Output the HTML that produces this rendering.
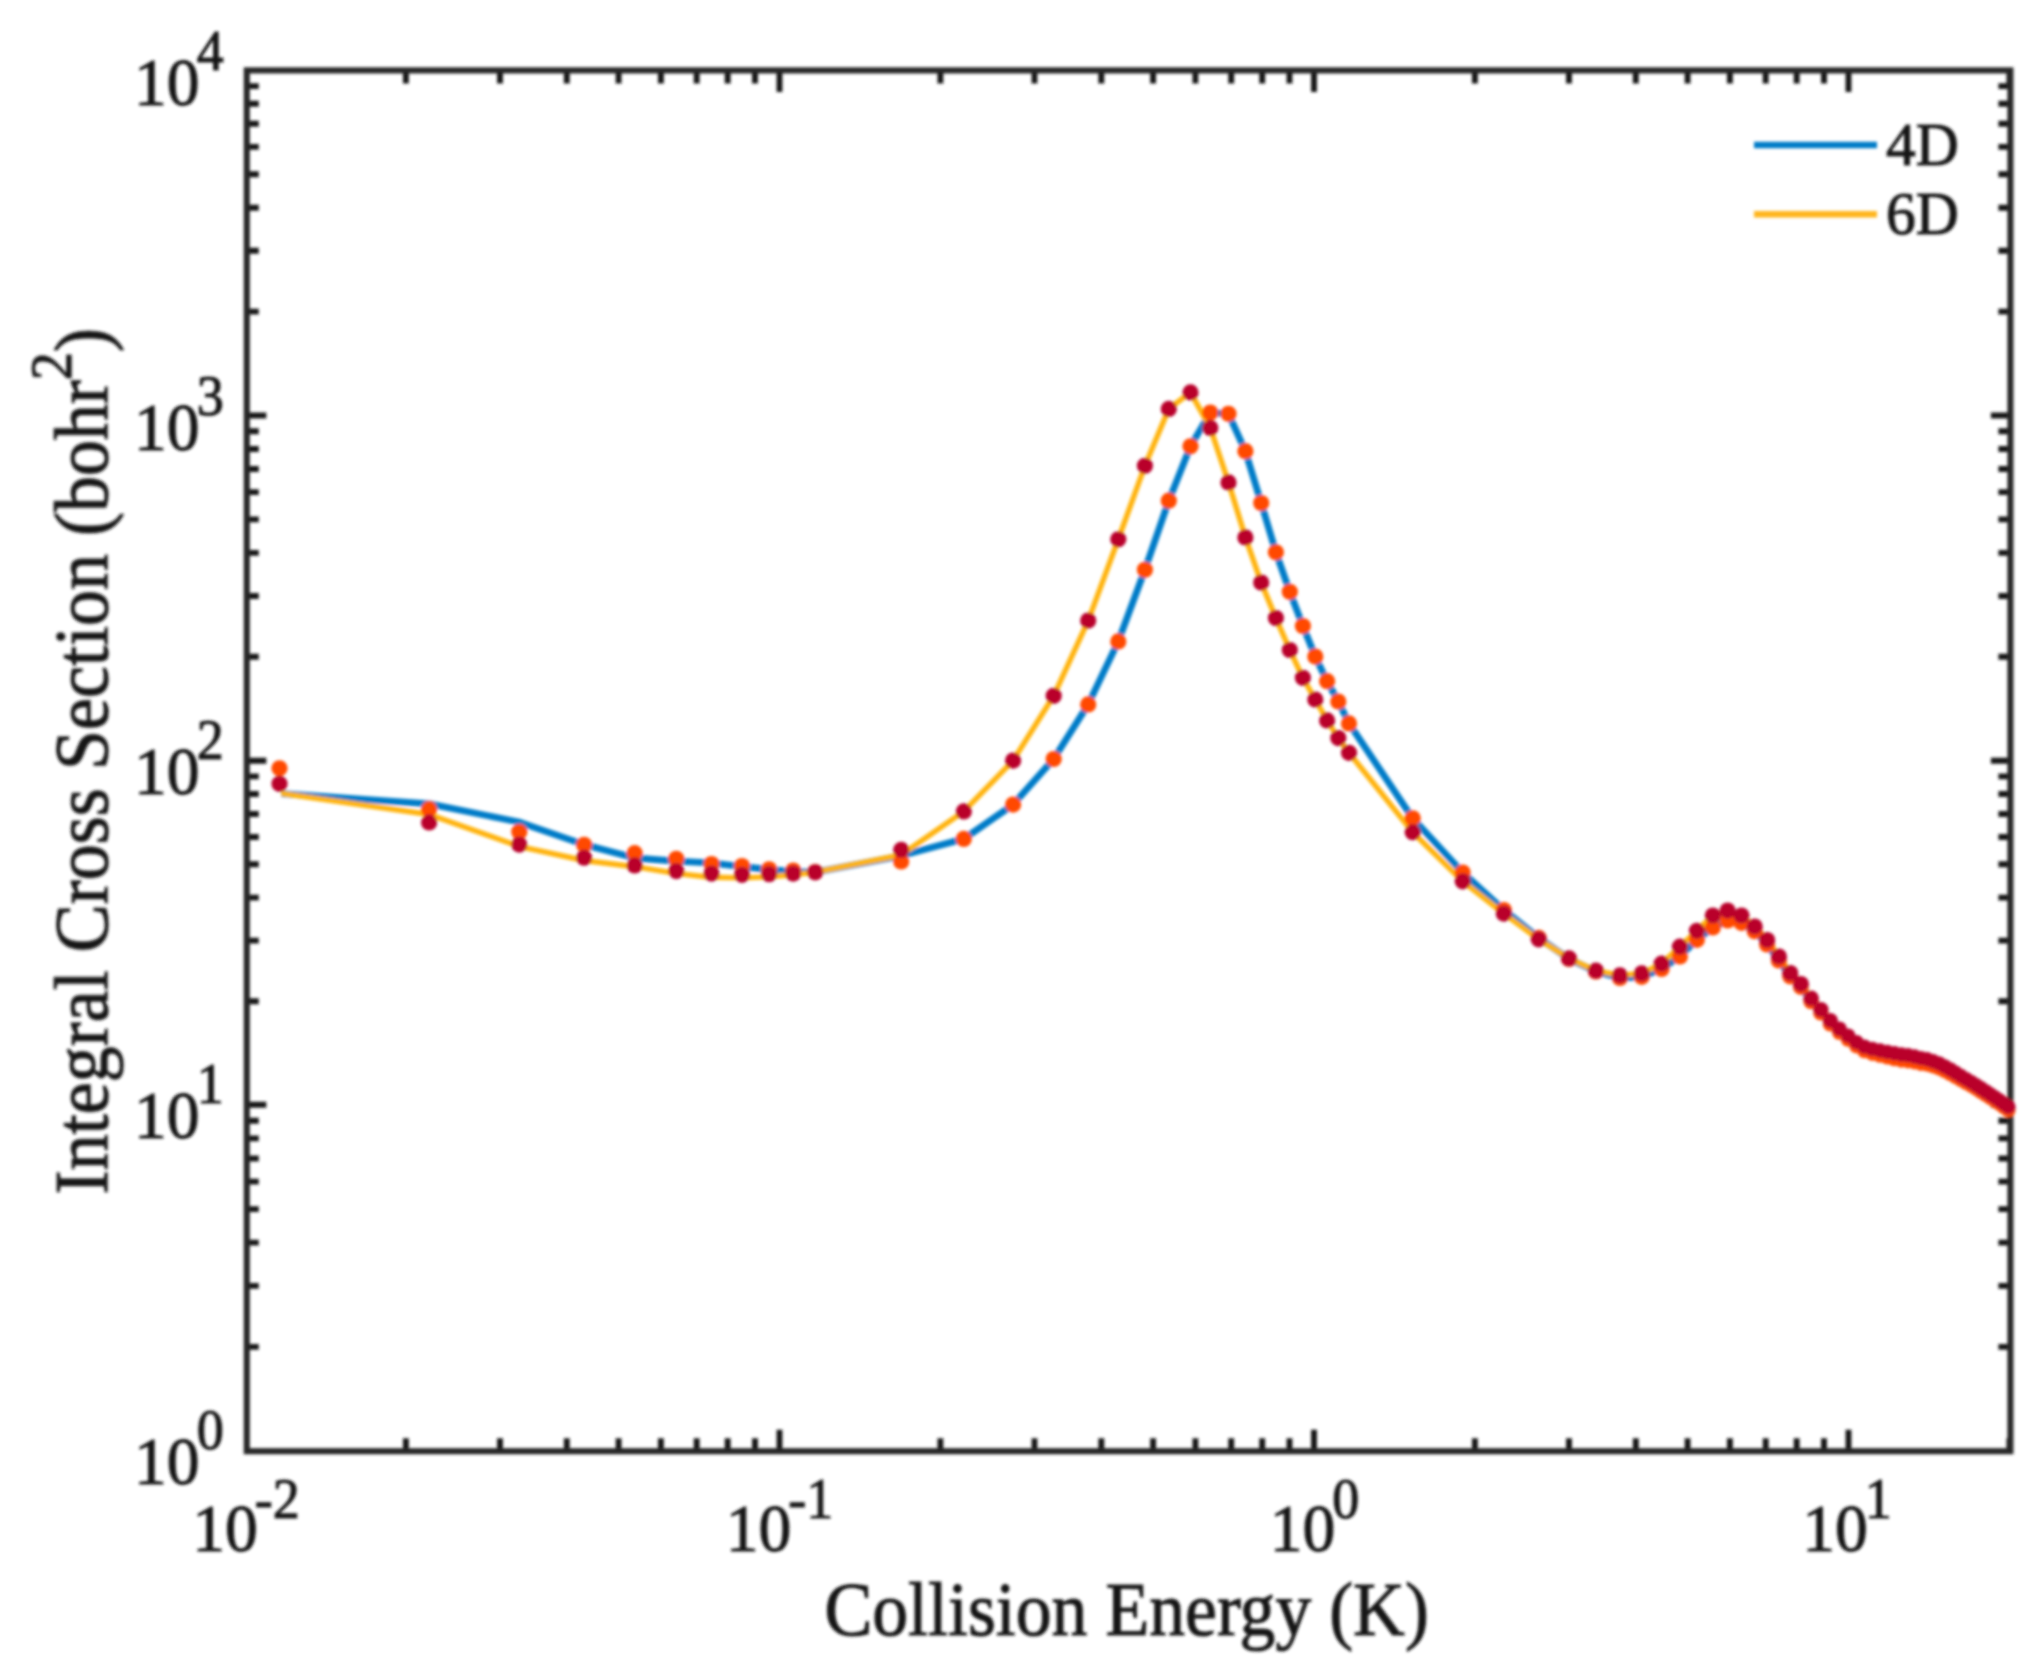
<!DOCTYPE html>
<html lang="en"><head><meta charset="utf-8"><title>Integral Cross Section vs Collision Energy</title>
<style>
html,body{margin:0;padding:0;background:#fff;}
body{width:2043px;height:1665px;overflow:hidden;}
svg{display:block;}
text{font-family:"Liberation Serif","Times New Roman",serif;fill:#141414;stroke:#141414;stroke-width:1.1px;stroke-linejoin:round;}
.tl{font-size:68px;}
.sup{font-size:56px;}
.lab{font-size:76px;}
.leg{font-size:61px;}
</style></head><body>
<svg width="2043" height="1665" viewBox="0 0 2043 1665">
<rect width="2043" height="1665" fill="#fff"/>
<defs><filter id="soft" x="0" y="0" width="2043" height="1665" filterUnits="userSpaceOnUse"><feGaussianBlur stdDeviation="1.4"/></filter>
<clipPath id="clip"><rect x="246.8" y="70.4" width="1775.6" height="1380.8"/></clipPath></defs>
<g id="chart" filter="url(#soft)">

<path d="M405.9,1451.2v-13M405.9,70.4v13M500.0,1451.2v-13M500.0,70.4v13M566.8,1451.2v-13M566.8,70.4v13M618.6,1451.2v-13M618.6,70.4v13M660.9,1451.2v-13M660.9,70.4v13M696.7,1451.2v-13M696.7,70.4v13M727.7,1451.2v-13M727.7,70.4v13M755.0,1451.2v-13M755.0,70.4v13M779.5,1451.2v-21.5M779.5,70.4v21.5M940.4,1451.2v-13M940.4,70.4v13M1034.5,1451.2v-13M1034.5,70.4v13M1101.3,1451.2v-13M1101.3,70.4v13M1153.1,1451.2v-13M1153.1,70.4v13M1195.4,1451.2v-13M1195.4,70.4v13M1231.2,1451.2v-13M1231.2,70.4v13M1262.2,1451.2v-13M1262.2,70.4v13M1289.5,1451.2v-13M1289.5,70.4v13M1314.0,1451.2v-21.5M1314.0,70.4v21.5M1474.9,1451.2v-13M1474.9,70.4v13M1569.0,1451.2v-13M1569.0,70.4v13M1635.8,1451.2v-13M1635.8,70.4v13M1687.6,1451.2v-13M1687.6,70.4v13M1729.9,1451.2v-13M1729.9,70.4v13M1765.7,1451.2v-13M1765.7,70.4v13M1796.7,1451.2v-13M1796.7,70.4v13M1824.0,1451.2v-13M1824.0,70.4v13M1848.5,1451.2v-21.5M1848.5,70.4v21.5M2009.4,1451.2v-13M2009.4,70.4v13M246.8,1346.9h12M2010.4,1346.9h-12M246.8,1285.9h12M2010.4,1285.9h-12M246.8,1242.6h12M2010.4,1242.6h-12M246.8,1209.1h12M2010.4,1209.1h-12M246.8,1181.6h12M2010.4,1181.6h-12M246.8,1158.5h12M2010.4,1158.5h-12M246.8,1138.4h12M2010.4,1138.4h-12M246.8,1120.7h12M2010.4,1120.7h-12M246.8,1104.8h19.5M2010.4,1104.8h-19.5M246.8,1001.2h12M2010.4,1001.2h-12M246.8,940.6h12M2010.4,940.6h-12M246.8,897.6h12M2010.4,897.6h-12M246.8,864.3h12M2010.4,864.3h-12M246.8,837.0h12M2010.4,837.0h-12M246.8,814.0h12M2010.4,814.0h-12M246.8,794.0h12M2010.4,794.0h-12M246.8,776.4h12M2010.4,776.4h-12M246.8,760.7h19.5M2010.4,760.7h-19.5M246.8,656.8h12M2010.4,656.8h-12M246.8,596.0h12M2010.4,596.0h-12M246.8,552.9h12M2010.4,552.9h-12M246.8,519.4h12M2010.4,519.4h-12M246.8,492.1h12M2010.4,492.1h-12M246.8,469.0h12M2010.4,469.0h-12M246.8,449.0h12M2010.4,449.0h-12M246.8,431.3h12M2010.4,431.3h-12M246.8,415.5h19.5M2010.4,415.5h-19.5M246.8,311.6h12M2010.4,311.6h-12M246.8,250.8h12M2010.4,250.8h-12M246.8,207.7h12M2010.4,207.7h-12M246.8,174.2h12M2010.4,174.2h-12M246.8,146.9h12M2010.4,146.9h-12M246.8,123.8h12M2010.4,123.8h-12M246.8,103.8h12M2010.4,103.8h-12M246.8,86.1h12M2010.4,86.1h-12" stroke="#121212" stroke-width="5.9" fill="none"/>
<rect x="246.8" y="70.4" width="1763.6000000000001" height="1380.8" fill="none" stroke="#282828" stroke-width="6.1"/>
<g clip-path="url(#clip)">
<polyline points="281.3,793.6 429.4,803.8 518.7,822.0 584.2,844.6 634.9,858.0 675.5,861.2 710.0,862.8 742.3,866.7 768.9,869.5 793.3,871.6 814.1,872.4 901.0,855.8 963.8,838.9 1013.1,804.6 1053.7,759.0 1088.2,704.4 1118.3,641.4 1144.9,569.8 1168.8,500.7 1190.5,446.3 1210.3,412.6 1228.5,413.8 1245.4,451.2 1261.2,503.0 1275.9,552.3 1289.8,591.8 1302.9,626.0 1315.3,656.6 1327.1,681.2 1338.3,701.5 1349.0,723.4 1412.7,818.3 1462.7,872.5 1503.8,910.0 1538.7,937.9 1569.0,958.9 1595.9,971.5 1619.9,978.0 1641.7,976.8 1661.6,969.0 1679.9,956.4 1696.9,939.8 1712.8,927.5 1727.6,920.5 1741.5,922.8 1754.7,931.2 1767.1,944.4 1778.9,960.5 1790.2,976.3 1800.9,986.9 1811.1,1001.4 1820.9,1012.9 1830.3,1023.9 1839.4,1032.4 1848.1,1039.5 1856.5,1046.1 1864.6,1051.0 1872.4,1053.6 1880.0,1055.5 1887.3,1057.3 1894.4,1059.0 1901.3,1060.4 1908.0,1061.1 1914.5,1062.2 1920.9,1063.6 1927.0,1064.4 1933.0,1066.1 1938.9,1068.1 1944.6,1070.9 1950.2,1073.8 1955.6,1076.9 1960.9,1079.9 1966.1,1082.8 1971.2,1085.7 1976.2,1088.7 1981.0,1091.8 1985.8,1094.8 1990.5,1097.9 1995.1,1100.9 1999.6,1103.9 2004.0,1107.0 2008.3,1110.1" fill="none" stroke="#007cc8" stroke-width="6.8" stroke-linejoin="round"/>
<polyline points="281.3,793.4 429.4,814.5 518.7,846.3 584.2,860.5 634.9,866.7 675.5,873.4 710.0,877.3 742.3,877.9 768.9,876.7 793.3,874.8 814.1,872.4 901.0,855.0 963.8,811.4 1013.1,760.6 1053.7,695.8 1088.2,620.6 1118.3,539.3 1144.9,465.8 1168.8,408.9 1190.5,392.4 1210.3,427.9 1228.5,482.4 1245.4,537.4 1261.2,582.6 1275.9,618.1 1289.8,650.0 1302.9,677.8 1315.3,699.5 1327.1,720.4 1338.3,738.1 1349.0,752.8 1412.7,832.2 1462.7,881.3 1503.8,913.6 1538.7,939.3 1569.0,958.4 1595.9,970.7 1619.9,975.4 1641.7,973.4 1661.6,963.7 1679.9,946.7 1696.9,930.8 1712.8,915.5 1727.6,910.6 1741.5,915.5 1754.7,926.5 1767.1,940.0 1778.9,956.5 1790.2,973.0 1800.9,983.9 1811.1,998.2 1820.9,1009.6 1830.3,1020.5 1839.4,1028.8 1848.1,1035.7 1856.5,1042.2 1864.6,1046.8 1872.4,1049.0 1880.0,1050.6 1887.3,1052.1 1894.4,1053.4 1901.3,1054.6 1908.0,1055.3 1914.5,1056.6 1920.9,1058.2 1927.0,1059.3 1933.0,1061.3 1938.9,1063.5 1944.6,1066.5 1950.2,1069.5 1955.6,1072.8 1960.9,1076.1 1966.1,1079.2 1971.2,1082.2 1976.2,1085.3 1981.0,1088.4 1985.8,1091.5 1990.5,1094.6 1995.1,1097.6 1999.6,1100.6 2004.0,1103.8 2008.3,1106.9" fill="none" stroke="#ffb30a" stroke-width="5.4" stroke-linejoin="round"/>
<g fill="#ff4a00"><circle cx="279.5" cy="768.3" r="8.1"/><circle cx="429.1" cy="809.2" r="8.1"/><circle cx="519.3" cy="831.8" r="8.1"/><circle cx="584.1" cy="844.8" r="8.1"/><circle cx="634.7" cy="853.2" r="8.1"/><circle cx="676.3" cy="858.8" r="8.1"/><circle cx="711.5" cy="864.0" r="8.1"/><circle cx="742.0" cy="866.0" r="8.1"/><circle cx="769.1" cy="869.3" r="8.1"/><circle cx="793.2" cy="870.5" r="8.1"/><circle cx="815.2" cy="872.0" r="8.1"/><circle cx="901.2" cy="861.5" r="8.1"/><circle cx="963.8" cy="838.9" r="8.1"/><circle cx="1013.1" cy="804.6" r="8.1"/><circle cx="1053.7" cy="759.0" r="8.1"/><circle cx="1088.2" cy="704.4" r="8.1"/><circle cx="1118.3" cy="641.4" r="8.1"/><circle cx="1144.9" cy="569.8" r="8.1"/><circle cx="1168.8" cy="500.7" r="8.1"/><circle cx="1190.5" cy="446.3" r="8.1"/><circle cx="1210.3" cy="412.6" r="8.1"/><circle cx="1228.5" cy="413.8" r="8.1"/><circle cx="1245.4" cy="451.2" r="8.1"/><circle cx="1261.2" cy="503.0" r="8.1"/><circle cx="1275.9" cy="552.3" r="8.1"/><circle cx="1289.8" cy="591.8" r="8.1"/><circle cx="1302.9" cy="626.0" r="8.1"/><circle cx="1315.3" cy="656.6" r="8.1"/><circle cx="1327.1" cy="681.2" r="8.1"/><circle cx="1338.3" cy="701.5" r="8.1"/><circle cx="1349.0" cy="723.4" r="8.1"/><circle cx="1412.7" cy="818.3" r="8.1"/><circle cx="1462.7" cy="872.5" r="8.1"/><circle cx="1503.8" cy="910.0" r="8.1"/><circle cx="1538.7" cy="937.9" r="8.1"/><circle cx="1569.0" cy="958.9" r="8.1"/><circle cx="1595.9" cy="971.5" r="8.1"/><circle cx="1619.9" cy="978.0" r="8.1"/><circle cx="1641.7" cy="976.8" r="8.1"/><circle cx="1661.6" cy="969.0" r="8.1"/><circle cx="1679.9" cy="956.4" r="8.1"/><circle cx="1696.9" cy="939.8" r="8.1"/><circle cx="1712.8" cy="927.5" r="8.1"/><circle cx="1727.6" cy="920.5" r="8.1"/><circle cx="1741.5" cy="922.8" r="8.1"/><circle cx="1754.7" cy="931.2" r="8.1"/><circle cx="1767.1" cy="944.4" r="8.1"/><circle cx="1778.9" cy="960.5" r="8.1"/><circle cx="1790.2" cy="976.3" r="8.1"/><circle cx="1800.9" cy="986.9" r="8.0"/><circle cx="1811.1" cy="1001.4" r="7.8"/><circle cx="1820.9" cy="1012.9" r="7.7"/><circle cx="1830.3" cy="1023.9" r="7.6"/><circle cx="1839.4" cy="1032.4" r="7.4"/><circle cx="1848.1" cy="1039.5" r="7.3"/><circle cx="1856.5" cy="1046.1" r="7.3"/><circle cx="1864.6" cy="1051.0" r="7.3"/><circle cx="1872.4" cy="1053.6" r="7.3"/><circle cx="1880.0" cy="1055.5" r="7.3"/><circle cx="1887.3" cy="1057.3" r="7.3"/><circle cx="1894.4" cy="1059.0" r="7.3"/><circle cx="1901.3" cy="1060.4" r="7.3"/><circle cx="1908.0" cy="1061.1" r="7.3"/><circle cx="1914.5" cy="1062.2" r="7.3"/><circle cx="1920.9" cy="1063.6" r="7.3"/><circle cx="1927.0" cy="1064.4" r="7.3"/><circle cx="1933.0" cy="1066.1" r="7.3"/><circle cx="1938.9" cy="1068.1" r="7.3"/><circle cx="1944.6" cy="1070.9" r="7.3"/><circle cx="1950.2" cy="1073.8" r="7.3"/><circle cx="1955.6" cy="1076.9" r="7.3"/><circle cx="1960.9" cy="1079.9" r="7.3"/><circle cx="1966.1" cy="1082.8" r="7.3"/><circle cx="1971.2" cy="1085.7" r="7.3"/><circle cx="1976.2" cy="1088.7" r="7.3"/><circle cx="1981.0" cy="1091.8" r="7.3"/><circle cx="1985.8" cy="1094.8" r="7.3"/><circle cx="1990.5" cy="1097.9" r="7.3"/><circle cx="1995.1" cy="1100.9" r="7.3"/><circle cx="1999.6" cy="1103.9" r="7.3"/><circle cx="2004.0" cy="1107.0" r="7.3"/><circle cx="2008.3" cy="1110.1" r="7.3"/></g>
<g fill="#b9002a"><circle cx="279.5" cy="783.8" r="8.1"/><circle cx="429.1" cy="822.4" r="8.1"/><circle cx="519.3" cy="844.6" r="8.1"/><circle cx="584.1" cy="857.7" r="8.1"/><circle cx="634.7" cy="865.4" r="8.1"/><circle cx="676.3" cy="871.1" r="8.1"/><circle cx="711.5" cy="873.6" r="8.1"/><circle cx="742.0" cy="874.8" r="8.1"/><circle cx="769.1" cy="874.2" r="8.1"/><circle cx="793.2" cy="873.6" r="8.1"/><circle cx="815.2" cy="872.3" r="8.1"/><circle cx="901.2" cy="849.9" r="8.1"/><circle cx="963.8" cy="811.4" r="8.1"/><circle cx="1013.1" cy="760.6" r="8.1"/><circle cx="1053.7" cy="695.8" r="8.1"/><circle cx="1088.2" cy="620.6" r="8.1"/><circle cx="1118.3" cy="539.3" r="8.1"/><circle cx="1144.9" cy="465.8" r="8.1"/><circle cx="1168.8" cy="408.9" r="8.1"/><circle cx="1190.5" cy="392.4" r="8.1"/><circle cx="1210.3" cy="427.9" r="8.1"/><circle cx="1228.5" cy="482.4" r="8.1"/><circle cx="1245.4" cy="537.4" r="8.1"/><circle cx="1261.2" cy="582.6" r="8.1"/><circle cx="1275.9" cy="618.1" r="8.1"/><circle cx="1289.8" cy="650.0" r="8.1"/><circle cx="1302.9" cy="677.8" r="8.1"/><circle cx="1315.3" cy="699.5" r="8.1"/><circle cx="1327.1" cy="720.4" r="8.1"/><circle cx="1338.3" cy="738.1" r="8.1"/><circle cx="1349.0" cy="752.8" r="8.1"/><circle cx="1412.7" cy="832.2" r="8.1"/><circle cx="1462.7" cy="881.3" r="8.1"/><circle cx="1503.8" cy="913.6" r="8.1"/><circle cx="1538.7" cy="939.3" r="8.1"/><circle cx="1569.0" cy="958.4" r="8.1"/><circle cx="1595.9" cy="970.7" r="8.1"/><circle cx="1619.9" cy="975.4" r="8.1"/><circle cx="1641.7" cy="973.4" r="8.1"/><circle cx="1661.6" cy="963.7" r="8.1"/><circle cx="1679.9" cy="946.7" r="8.1"/><circle cx="1696.9" cy="930.8" r="8.1"/><circle cx="1712.8" cy="915.5" r="8.1"/><circle cx="1727.6" cy="910.6" r="8.1"/><circle cx="1741.5" cy="915.5" r="8.1"/><circle cx="1754.7" cy="926.5" r="8.1"/><circle cx="1767.1" cy="940.0" r="8.1"/><circle cx="1778.9" cy="956.5" r="8.1"/><circle cx="1790.2" cy="973.0" r="8.1"/><circle cx="1800.9" cy="983.9" r="8.0"/><circle cx="1811.1" cy="998.2" r="7.8"/><circle cx="1820.9" cy="1009.6" r="7.7"/><circle cx="1830.3" cy="1020.5" r="7.6"/><circle cx="1839.4" cy="1028.8" r="7.4"/><circle cx="1848.1" cy="1035.7" r="7.3"/><circle cx="1856.5" cy="1042.2" r="7.3"/><circle cx="1864.6" cy="1046.8" r="7.3"/><circle cx="1872.4" cy="1049.0" r="7.3"/><circle cx="1880.0" cy="1050.6" r="7.3"/><circle cx="1887.3" cy="1052.1" r="7.3"/><circle cx="1894.4" cy="1053.4" r="7.3"/><circle cx="1901.3" cy="1054.6" r="7.3"/><circle cx="1908.0" cy="1055.3" r="7.3"/><circle cx="1914.5" cy="1056.6" r="7.3"/><circle cx="1920.9" cy="1058.2" r="7.3"/><circle cx="1927.0" cy="1059.3" r="7.3"/><circle cx="1933.0" cy="1061.3" r="7.3"/><circle cx="1938.9" cy="1063.5" r="7.3"/><circle cx="1944.6" cy="1066.5" r="7.3"/><circle cx="1950.2" cy="1069.5" r="7.3"/><circle cx="1955.6" cy="1072.8" r="7.3"/><circle cx="1960.9" cy="1076.1" r="7.3"/><circle cx="1966.1" cy="1079.2" r="7.3"/><circle cx="1971.2" cy="1082.2" r="7.3"/><circle cx="1976.2" cy="1085.3" r="7.3"/><circle cx="1981.0" cy="1088.4" r="7.3"/><circle cx="1985.8" cy="1091.5" r="7.3"/><circle cx="1990.5" cy="1094.6" r="7.3"/><circle cx="1995.1" cy="1097.6" r="7.3"/><circle cx="1999.6" cy="1100.6" r="7.3"/><circle cx="2004.0" cy="1103.8" r="7.3"/><circle cx="2008.3" cy="1106.9" r="7.3"/></g>
</g>
<line x1="1754" x2="1877" y1="145" y2="145" stroke="#007cc8" stroke-width="6.4"/>
<line x1="1754" x2="1877" y1="214.3" y2="214.3" stroke="#ffb51a" stroke-width="6.4"/>
<text class="leg" transform="translate(1886,164.5) scale(0.975,1)">4D</text>
<text class="leg" transform="translate(1886,234) scale(0.975,1)">6D</text>
<text class="tl" transform="translate(134,1483.8) scale(0.965,1)">10<tspan class="sup" dx="-3" dy="-35">0</tspan></text>
<text class="tl" transform="translate(134,1138.4) scale(0.965,1)">10<tspan class="sup" dx="-3" dy="-35">1</tspan></text>
<text class="tl" transform="translate(134,794.0) scale(0.965,1)">10<tspan class="sup" dx="-3" dy="-35">2</tspan></text>
<text class="tl" transform="translate(134,449.9) scale(0.965,1)">10<tspan class="sup" dx="-3" dy="-35">3</tspan></text>
<text class="tl" transform="translate(134,105.0) scale(0.965,1)">10<tspan class="sup" dx="-3" dy="-35">4</tspan></text>
<text class="tl" text-anchor="middle" transform="translate(246,1551) scale(0.965,1)">10<tspan class="sup" dx="-3" dy="-33">-2</tspan></text>
<text class="tl" text-anchor="middle" transform="translate(779.5,1551) scale(0.965,1)">10<tspan class="sup" dx="-3" dy="-33">-1</tspan></text>
<text class="tl" text-anchor="middle" transform="translate(1314.5,1551) scale(0.965,1)">10<tspan class="sup" dx="-3" dy="-33">0</tspan></text>
<text class="tl" text-anchor="middle" transform="translate(1847,1551) scale(0.965,1)">10<tspan class="sup" dx="-3" dy="-33">1</tspan></text>
<text class="lab" text-anchor="middle" transform="translate(1126.6,1635.3) scale(0.944,1)">Collision Energy (K)</text>
<text class="lab" text-anchor="middle" transform="translate(107.2,761.2) rotate(-90) scale(0.948,1)">Integral Cross Section (bohr<tspan font-size="59" dy="-36">2</tspan><tspan dy="36">)</tspan></text>
</g></svg></body></html>
